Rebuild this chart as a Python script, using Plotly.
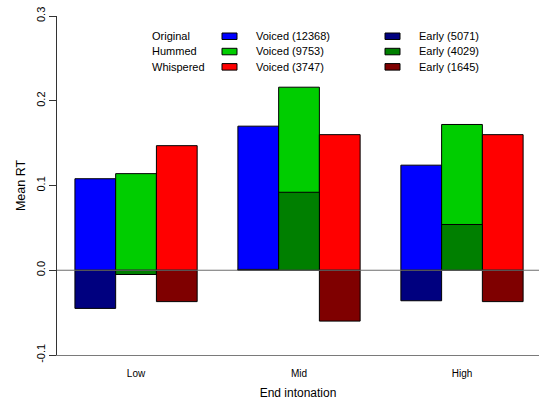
import plotly.graph_objects as go

# ---- data ----
intonation = ["Low", "Mid", "High"]
speech_types = ["Original", "Hummed", "Whispered"]
voiced_labels = ["Voiced (12368)", "Voiced (9753)", "Voiced (3747)"]
early_labels = ["Early (5071)", "Early (4029)", "Early (1645)"]
voiced_original = [0.108, 0.170, 0.124]
voiced_hummed = [0.114, 0.216, 0.172]
voiced_whispered = [0.147, 0.160, 0.160]
early_original = [-0.045, 0.001, -0.036]
early_hummed = [-0.005, 0.092, 0.054]
early_whispered = [-0.037, -0.060, -0.037]
y_ticks = [-0.1, 0.0, 0.1, 0.2, 0.3]
y_ticktext = ["-0.1", "0.0", "0.1", "0.2", "0.3"]

voiced_colors = ["#0000FF", "#00CD00", "#FF0000"]
early_colors = ["#00007F", "#007F00", "#7F0000"]

W, H = 539, 400
ML, MR, MT, MB = 57, 0, 16, 45
FONT = "Liberation Sans, Arial, sans-serif"

fig = go.Figure()
voiced = [voiced_original, voiced_hummed, voiced_whispered]
early = [early_original, early_hummed, early_whispered]
for i, st in enumerate(speech_types):
    fig.add_trace(go.Bar(x=intonation, y=voiced[i], offsetgroup=st,
                         marker=dict(color=voiced_colors[i], line=dict(color="black", width=1)),
                         name=voiced_labels[i], showlegend=False))
for i, st in enumerate(speech_types):
    fig.add_trace(go.Bar(x=intonation, y=early[i], offsetgroup=st,
                         marker=dict(color=early_colors[i], line=dict(color="black", width=1)),
                         name=early_labels[i], showlegend=False))

# pixel -> paper helpers for legend layout
pw = W - ML - MR
ph = H - MT - MB
def px(x):
    return (x - ML) / pw
def py(y):
    return (H - MB - y) / ph

annotations = []
shapes = []
rows_y = [36, 51.3, 66.6]
for i in range(3):
    annotations.append(dict(x=px(150), y=py(rows_y[i]), xref="paper", yref="paper",
                            text=speech_types[i], showarrow=False, xanchor="left",
                            yanchor="middle", font=dict(size=11, color="black", family=FONT)))
    annotations.append(dict(x=px(254), y=py(rows_y[i]), xref="paper", yref="paper",
                            text=voiced_labels[i], showarrow=False, xanchor="left",
                            yanchor="middle", font=dict(size=11, color="black", family=FONT)))
    annotations.append(dict(x=px(417), y=py(rows_y[i]), xref="paper", yref="paper",
                            text=early_labels[i], showarrow=False, xanchor="left",
                            yanchor="middle", font=dict(size=11, color="black", family=FONT)))
    shapes.append(dict(type="rect", xref="paper", yref="paper",
                       x0=px(222), x1=px(237), y0=py(rows_y[i] - 3), y1=py(rows_y[i] + 3.5),
                       fillcolor=voiced_colors[i], line=dict(color="black", width=1)))
    shapes.append(dict(type="rect", xref="paper", yref="paper",
                       x0=px(385), x1=px(400), y0=py(rows_y[i] - 3), y1=py(rows_y[i] + 3.5),
                       fillcolor=early_colors[i], line=dict(color="black", width=1)))

# zero reference line drawn above bars
shapes.append(dict(type="line", xref="paper", yref="y", x0=0, x1=1, y0=0, y1=0,
                   line=dict(color="#6e6e6e", width=1.2), layer="above"))

fig.update_layout(
    width=W, height=H,
    margin=dict(l=ML, r=MR, t=MT, b=MB, pad=0, autoexpand=False),
    paper_bgcolor="white", plot_bgcolor="white",
    barmode="group", bargap=0.25, bargroupgap=0,
    font=dict(family=FONT, color="black"),
    annotations=annotations, shapes=shapes,
    showlegend=False,
)
fig.update_xaxes(
    type="category", range=[-0.485, 2.4725], automargin=False,
    showline=True, linecolor="#7a7a7a", linewidth=1.2, mirror=False,
    showgrid=False, zeroline=False,
    ticks="outside", ticklen=9, tickcolor="rgba(0,0,0,0)",
    tickfont=dict(size=10, color="black", family=FONT),
    title=dict(text="End intonation", font=dict(size=12, color="black", family=FONT), standoff=10),
)
fig.update_yaxes(
    range=[-0.1, 0.3], tickvals=y_ticks, ticktext=y_ticktext, automargin=False,
    showline=True, linecolor="#333333", linewidth=1,
    showgrid=False, zeroline=False,
    ticks="outside", ticklen=7, tickcolor="#333333", tickwidth=1,
    tickangle=-90, tickfont=dict(size=11, color="black", family=FONT),
    title=dict(text="Mean RT", font=dict(size=12.5, color="black", family=FONT), standoff=6),
)

fig.write_html("out.html", config={"displayModeBar": False},
               post_script="document.body.style.margin='0';document.body.style.overflow='hidden';")
